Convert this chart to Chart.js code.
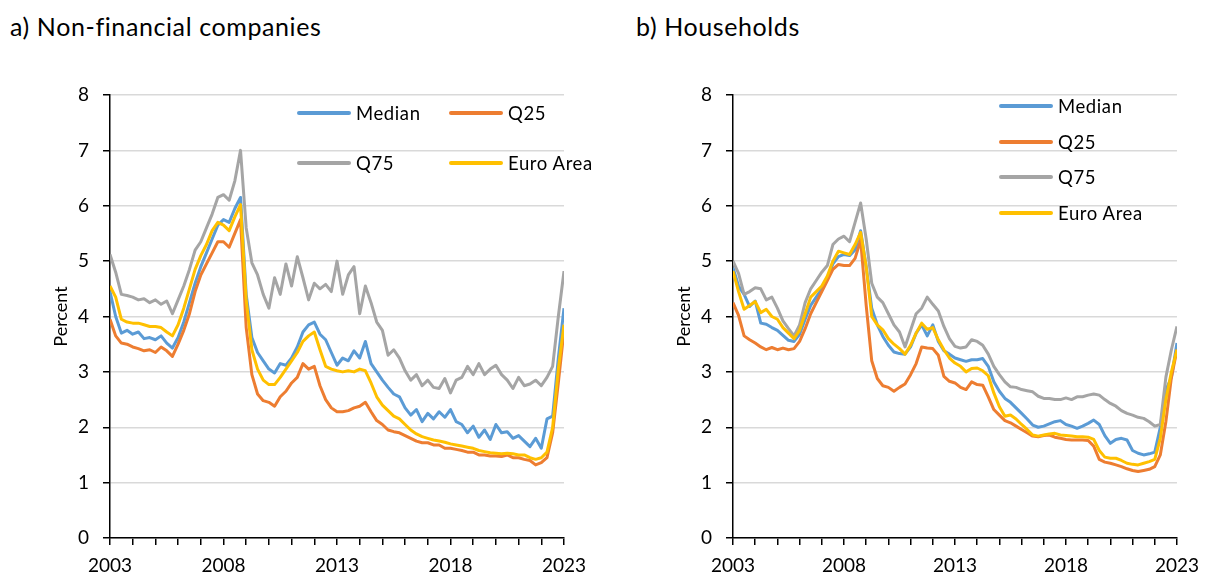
<!DOCTYPE html>
<html><head><meta charset="utf-8">
<script src="https://cdn.jsdelivr.net/npm/chart.js@4.4.0/dist/chart.umd.min.js"></script>
<style>
html,body{margin:0;padding:0;background:#fff;width:1208px;height:575px;overflow:hidden;font-family:Lato,sans-serif;color:#000;}
.title{position:absolute;top:11px;font-size:25px;letter-spacing:0.6px;white-space:nowrap;}
canvas{position:absolute;top:60px;}
.item{position:absolute;display:flex;align-items:center;white-space:nowrap;font-size:18.5px;height:22px;margin-top:-11px;letter-spacing:0.6px;}
.sw{width:54px;height:4px;margin-right:5px;border-radius:2px;}
</style></head>
<body>
<div class="title" style="left:10px">a) Non-financial companies</div>
<div class="title" style="left:636px">b) Households</div>
<canvas id="c1" width="600" height="515" style="left:0px"></canvas>
<canvas id="c2" width="588" height="515" style="left:620px"></canvas>
<div id="leg"></div>
<script>
// ---- categories (quarterly, 2003Q1 .. 2023Q1) ----
const quarters = [];
for (let y = 2003; y <= 2023; y++) for (let q = 0; q < 4; q++) { if (y === 2023 && q > 0) break; quarters.push(y + q / 4); }
const seriesNames = ['Median', 'Q25', 'Q75', 'Euro Area'];
const yTicks = [0, 1, 2, 3, 4, 5, 6, 7, 8];
const xLabelYears = [2003, 2008, 2013, 2018, 2023];

// ---- a) Non-financial companies ----
const nfcMedian = [4.45,4.00,3.70,3.75, 3.68,3.72,3.60,3.62, 3.58,3.65,3.52,3.43, 3.62,3.90,4.25,4.60,
  4.90,5.15,5.40,5.65, 5.75,5.70,5.95,6.15, 4.40,3.62,3.35,3.20, 3.05,2.98,3.15,3.12,
  3.25,3.45,3.72,3.85, 3.90,3.68,3.58,3.35, 3.12,3.25,3.20,3.38, 3.25,3.55,3.15,3.00,
  2.85,2.72,2.60,2.55, 2.35,2.22,2.32,2.10, 2.25,2.15,2.28,2.18, 2.32,2.10,2.05,1.90,
  2.02,1.82,1.95,1.78, 2.05,1.90,1.92,1.80, 1.85,1.75,1.65,1.80, 1.62,2.15,2.20,3.25, 4.15];
const nfcQ25 = [3.95,3.65,3.52,3.50, 3.45,3.42,3.38,3.40, 3.35,3.45,3.38,3.28, 3.50,3.75,4.05,4.45,
  4.75,4.95,5.15,5.35, 5.35,5.25,5.50,5.75, 3.80,2.95,2.60,2.48, 2.45,2.38,2.55,2.65,
  2.80,2.90,3.15,3.05, 3.10,2.75,2.50,2.35, 2.28,2.28,2.30,2.35, 2.38,2.45,2.28,2.12,
  2.05,1.95,1.92,1.90, 1.85,1.80,1.75,1.72, 1.72,1.68,1.68,1.62, 1.62,1.60,1.58,1.55,
  1.55,1.50,1.50,1.48, 1.48,1.47,1.50,1.45, 1.45,1.42,1.40,1.32, 1.36,1.45,1.90,2.80, 3.75];
const nfcQ75 = [5.12,4.80,4.40,4.38, 4.35,4.30,4.32,4.25, 4.30,4.22,4.28,4.05, 4.30,4.55,4.85,5.20,
  5.35,5.60,5.85,6.15, 6.20,6.10,6.45,7.00, 5.60,4.97,4.75,4.40, 4.15,4.70,4.40,4.95,
  4.55,5.08,4.70,4.30, 4.60,4.50,4.58,4.45, 5.00,4.40,4.75,4.90, 4.05,4.55,4.25,3.90,
  3.75,3.30,3.40,3.25, 3.02,2.85,2.95,2.75, 2.85,2.72,2.70,2.88, 2.62,2.85,2.90,3.10,
  2.95,3.15,2.95,3.05, 3.12,2.95,2.85,2.70, 2.90,2.75,2.78,2.85, 2.75,2.90,3.10,4.00, 4.82];
const nfcEuro = [4.55,4.35,3.95,3.90, 3.88,3.88,3.85,3.82, 3.82,3.80,3.72,3.65, 3.85,4.15,4.50,4.85,
  5.10,5.30,5.55,5.70, 5.65,5.55,5.80,6.02, 4.30,3.40,3.05,2.85, 2.77,2.77,2.90,3.05,
  3.20,3.35,3.55,3.65, 3.72,3.40,3.10,3.05, 3.02,3.00,3.02,3.00, 3.05,3.02,2.80,2.55,
  2.40,2.30,2.20,2.15, 2.05,1.95,1.88,1.83, 1.80,1.77,1.75,1.73, 1.70,1.68,1.66,1.64,
  1.62,1.58,1.56,1.54, 1.53,1.52,1.53,1.52, 1.50,1.50,1.45,1.42, 1.45,1.55,2.00,3.05, 3.85];

// ---- b) Households ----
const hhMedian = [4.88,4.55,4.40,4.18, 4.28,3.88,3.86,3.80, 3.75,3.66,3.57,3.55, 3.68,3.95,4.20,4.35,
  4.50,4.70,4.95,5.08, 5.12,5.10,5.20,5.55, 4.90,4.15,3.85,3.64, 3.48,3.36,3.33,3.32,
  3.45,3.70,3.85,3.65, 3.85,3.55,3.38,3.32, 3.25,3.22,3.19,3.22, 3.22,3.24,3.10,2.82,
  2.65,2.52,2.45,2.35, 2.25,2.15,2.04,2.00, 2.02,2.06,2.10,2.12, 2.05,2.02,1.98,2.02,
  2.07,2.13,2.05,1.85, 1.71,1.78,1.80,1.77, 1.58,1.53,1.50,1.52, 1.55,2.00,2.67,2.90, 3.52];
const hhQ25 = [4.25,4.02,3.65,3.58, 3.52,3.45,3.40,3.44, 3.40,3.43,3.40,3.42, 3.55,3.78,4.05,4.25,
  4.45,4.65,4.85,4.94, 4.92,4.92,5.05,5.38, 4.20,3.20,2.88,2.75, 2.72,2.65,2.72,2.78,
  2.95,3.15,3.45,3.43, 3.42,3.30,2.92,2.83, 2.80,2.72,2.68,2.82, 2.77,2.76,2.55,2.32,
  2.22,2.12,2.08,2.02, 1.96,1.90,1.84,1.83, 1.85,1.86,1.82,1.80, 1.78,1.77,1.77,1.77,
  1.76,1.66,1.42,1.37, 1.35,1.32,1.29,1.25, 1.22,1.20,1.22,1.24, 1.29,1.50,2.10,2.90, 3.40];
const hhQ75 = [5.00,4.78,4.40,4.45, 4.52,4.50,4.30,4.35, 4.15,3.92,3.78,3.65, 3.85,4.25,4.50,4.65,
  4.80,4.92,5.30,5.40, 5.45,5.35,5.70,6.05, 5.40,4.60,4.35,4.25, 4.05,3.85,3.72,3.45,
  3.75,4.05,4.15,4.35, 4.22,4.10,3.82,3.60, 3.46,3.43,3.45,3.58, 3.55,3.48,3.32,3.10,
  2.95,2.82,2.73,2.72, 2.68,2.66,2.64,2.56, 2.52,2.52,2.50,2.50, 2.53,2.50,2.55,2.55,
  2.58,2.60,2.58,2.50, 2.43,2.38,2.30,2.25, 2.22,2.18,2.16,2.10, 2.02,2.05,2.90,3.40, 3.82];
const hhEuro = [4.82,4.45,4.13,4.20, 4.27,4.07,4.13,4.00, 3.95,3.80,3.70,3.60, 3.75,4.05,4.35,4.45,
  4.55,4.73,5.00,5.18, 5.15,5.12,5.30,5.52, 4.90,4.00,3.85,3.76, 3.60,3.50,3.42,3.32,
  3.48,3.70,3.88,3.77, 3.80,3.58,3.40,3.25, 3.16,3.10,3.00,3.06, 3.07,3.02,2.93,2.62,
  2.37,2.20,2.22,2.15, 2.05,1.96,1.86,1.84, 1.86,1.88,1.89,1.86, 1.85,1.84,1.83,1.83,
  1.82,1.78,1.58,1.46, 1.44,1.44,1.40,1.35, 1.33,1.32,1.35,1.38, 1.42,1.80,2.50,3.00, 3.40];

const colors = ['#5B9BD5', '#ED7D31', '#A5A5A5', '#FFC000'];
const FONT = 'Lato, sans-serif';

function makeChart(id, seriesList, yAxisWidth, padRight, titlePad) {
  const datasets = seriesList.map((vals, k) => ({
    label: seriesNames[k],
    data: quarters.map((x, i) => ({ x: x, y: vals[i] })),
    borderColor: colors[k],
    backgroundColor: colors[k],
    borderWidth: 3,
    pointRadius: 0,
    tension: 0,
    borderJoinStyle: 'round',
    order: 4 - k
  }));
  return new Chart(document.getElementById(id), {
    type: 'line',
    data: { datasets },
    options: {
      responsive: false, animation: false,
      layout: { padding: { top: 35, right: padRight, left: 0, bottom: 0 } },
      plugins: { legend: { display: false }, tooltip: { enabled: false } },
      scales: {
        x: {
          type: 'linear', min: 2003, max: 2023,
          ticks: { stepSize: 1, autoSkip: false, maxRotation: 0, color: '#000', padding: 9,
                   font: { family: FONT, size: 19 },
                   callback: v => xLabelYears.includes(v) ? String(v) : '' },
          grid: { drawOnChartArea: false, tickColor: '#000', tickLength: 7, lineWidth: 1.5 },
          border: { color: '#000', width: 1.5 },
          afterFit: s => { s.height = 37; }
        },
        y: {
          min: 0, max: 8,
          afterBuildTicks: s => { s.ticks = yTicks.map(v => ({ value: v })); },
          ticks: { color: '#000', padding: 14, font: { family: FONT, size: 19 } },
          grid: { color: '#D9D9D9', lineWidth: 1.5, tickColor: '#000', tickLength: 7 },
          border: { color: '#000', width: 1.5 },
          title: { display: true, text: 'Percent', color: '#000', font: { family: FONT, size: 18 }, padding: { top: titlePad, bottom: 0 } },
          afterFit: s => { s.width = yAxisWidth; }
        }
      }
    }
  });
}

const ch1 = makeChart('c1', [nfcMedian, nfcQ25, nfcQ75, nfcEuro], 110, 36, 50);
const ch2 = makeChart('c2', [hhMedian, hhQ25, hhQ75, hhEuro], 113, 20, 53);

// HTML legends placed inside plot areas
const leg = document.getElementById('leg');
function addItem(k, left, top) {
  const d = document.createElement('div');
  d.className = 'item';
  d.style.left = left + 'px'; d.style.top = top + 'px';
  d.innerHTML = '<span class="sw" style="background:' + colors[k] + '"></span><span>' + seriesNames[k] + '</span>';
  leg.appendChild(d);
}
const pos1 = [[297, 113], [449, 113], [297, 163], [449, 163]];
pos1.forEach((p, k) => addItem(k, p[0], p[1]));
[0, 1, 2, 3].forEach(k => addItem(k, 999, 106 + k * 35.7));
</script>
</body></html>
